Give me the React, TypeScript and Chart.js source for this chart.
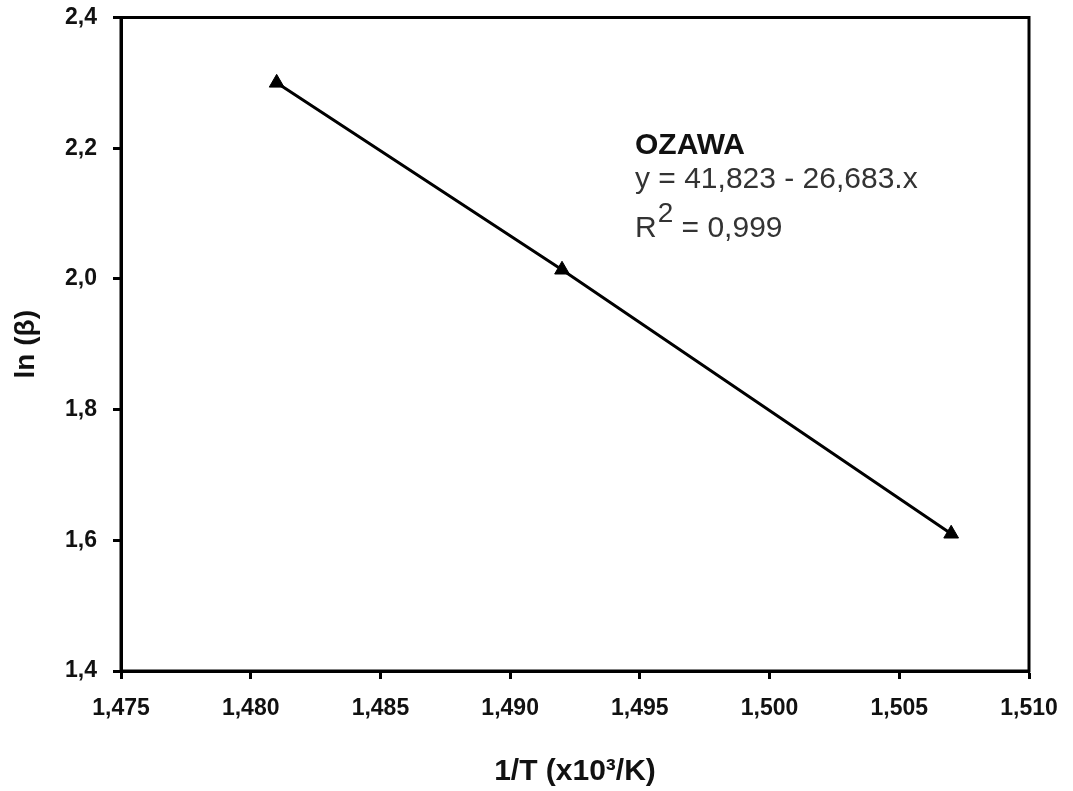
import React, { useEffect, useRef } from "react";
import { Chart, registerables } from "chart.js";

Chart.register(...registerables);

// ---- data ----
const xValues = [1.481, 1.492, 1.507];
const yValues = [2.3, 2.014, 1.61];
const xTickValues = [1.475, 1.48, 1.485, 1.49, 1.495, 1.5, 1.505, 1.51];
const yTickValues = [1.4, 1.6, 1.8, 2.0, 2.2, 2.4];
const xTitle = "1/T (x10³/K)";
const yTitle = "ln (β)";
const annotationTitle = "OZAWA";
const equationText = "y = 41,823 - 26,683.x";
const r2Base = "R";
const r2Sup = "2";
const r2Rest = " = 0,999";

const FONT = "'Liberation Sans', Arial, Helvetica, sans-serif";

const framePlugin = {
  id: "frame",
  afterDraw(chart: any) {
    const { ctx, chartArea } = chart;
    ctx.save();
    ctx.strokeStyle = "#000";
    ctx.lineWidth = 3;
    ctx.strokeRect(
      chartArea.left,
      chartArea.top,
      chartArea.right - chartArea.left,
      chartArea.bottom - chartArea.top
    );
    ctx.restore();
  },
};

const annotationPlugin = {
  id: "ozawaText",
  afterDraw(chart: any) {
    const { ctx, chartArea } = chart;
    const x0 = chartArea.left + 514;
    const y0 = chartArea.top;
    ctx.save();
    ctx.textAlign = "left";
    ctx.textBaseline = "alphabetic";
    ctx.fillStyle = "#111";
    ctx.font = `bold 30px ${FONT}`;
    ctx.fillText(annotationTitle, x0, y0 + 136);
    ctx.fillStyle = "#333";
    ctx.font = `30px ${FONT}`;
    ctx.fillText(equationText, x0, y0 + 170);
    const by = y0 + 219;
    ctx.fillText(r2Base, x0, by);
    const w1 = ctx.measureText(r2Base).width;
    ctx.font = `28px ${FONT}`;
    ctx.fillText(r2Sup, x0 + w1 + 1, by - 15);
    const w2 = ctx.measureText(r2Sup).width;
    ctx.font = `30px ${FONT}`;
    ctx.fillText(r2Rest, x0 + w1 + 1 + w2, by);
    ctx.restore();
  },
};

export default function App() {
  const canvasRef = useRef<HTMLCanvasElement | null>(null);

  useEffect(() => {
    if (!canvasRef.current) return;
    const chart = new Chart(canvasRef.current, {
      type: "scatter",
      data: {
        datasets: [
          {
            label: "OZAWA",
            data: xValues.map((x, i) => ({ x, y: yValues[i] })),
            showLine: true,
            borderColor: "#000",
            borderWidth: 3,
            backgroundColor: "#000",
            pointStyle: "triangle",
            pointRadius: 8.5,
            pointBorderWidth: 1,
            pointBorderColor: "#000",
            pointBackgroundColor: "#000",
          },
        ],
      },
      options: {
        responsive: false,
        animation: false,
        devicePixelRatio: 1,
        layout: { padding: { top: 17.5, right: 44, bottom: 0, left: 0 } },
        plugins: {
          legend: { display: false },
          tooltip: { enabled: false },
        },
        scales: {
          x: {
            type: "linear",
            min: 1.475,
            max: 1.51,
            afterBuildTicks: (scale: any) => {
              scale.ticks = xTickValues.map((v) => ({ value: v }));
            },
            afterFit: (scale: any) => {
              scale.height = 120;
              scale.paddingLeft = 0;
              scale.paddingRight = 0;
            },
            ticks: {
              autoSkip: false,
              maxRotation: 0,
              minRotation: 0,
              padding: 16,
              color: "#111",
              font: { family: FONT, size: 23, weight: "bold" },
              callback: (v: any) => Number(v).toFixed(3).replace(".", ","),
            },
            grid: {
              display: true,
              drawOnChartArea: false,
              drawTicks: true,
              tickLength: 8,
              tickWidth: 3,
              tickColor: "#000",
            },
            border: { display: true, color: "#000", width: 3 },
            title: {
              display: true,
              text: xTitle,
              color: "#111",
              font: { family: FONT, size: 30, weight: "bold", lineHeight: 1 },
              padding: { top: 0, bottom: 4 },
            },
          },
          y: {
            type: "linear",
            min: 1.4,
            max: 2.4,
            afterBuildTicks: (scale: any) => {
              scale.ticks = yTickValues.map((v) => ({ value: v }));
            },
            afterFit: (scale: any) => {
              scale.width = 121;
              scale.paddingTop = 0;
              scale.paddingBottom = 0;
            },
            ticks: {
              autoSkip: false,
              padding: 16,
              color: "#111",
              font: { family: FONT, size: 23, weight: "bold" },
              callback: (v: any) => Number(v).toFixed(1).replace(".", ","),
            },
            grid: {
              display: true,
              drawOnChartArea: false,
              drawTicks: true,
              tickLength: 8,
              tickWidth: 3,
              tickColor: "#000",
            },
            border: { display: true, color: "#000", width: 3 },
            title: {
              display: true,
              text: yTitle,
              color: "#111",
              font: { family: FONT, size: 28, weight: "bold", lineHeight: 1 },
              padding: { top: 12, bottom: 0 },
            },
          },
        },
      },
      plugins: [framePlugin, annotationPlugin],
    });
    return () => chart.destroy();
  }, []);

  return (
    <div
      style={{
        position: "absolute",
        left: 0,
        top: 0,
        width: 1073,
        height: 791,
        background: "#fff",
      }}
    >
      <canvas
        ref={canvasRef}
        width={1073}
        height={791}
        style={{ display: "block", width: 1073, height: 791 }}
      />
    </div>
  );
}
